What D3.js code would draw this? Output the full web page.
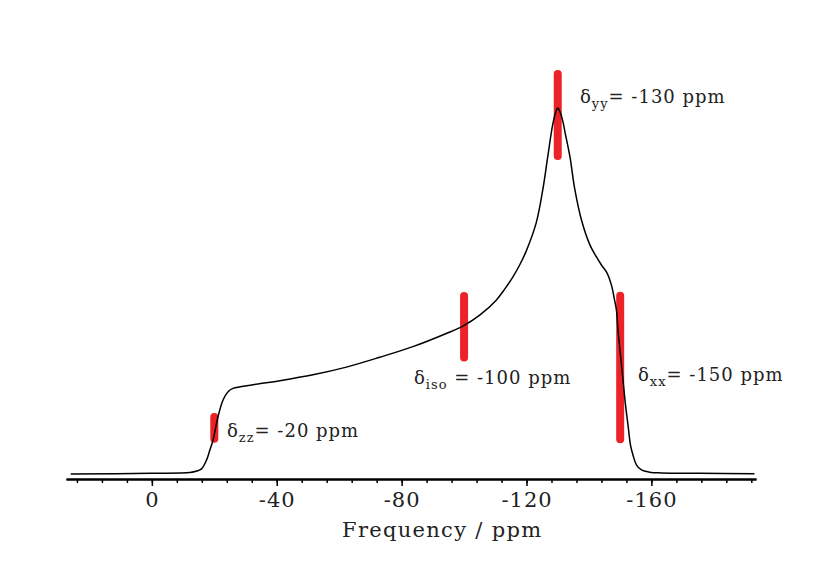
<!DOCTYPE html>
<html><head><meta charset="utf-8">
<script src="https://cdn.jsdelivr.net/npm/d3@7/dist/d3.min.js"></script>
<style>body{margin:0;background:#fff}svg{display:block}</style>
</head><body><svg id="c" width="829" height="585"></svg>
<script>
// spectrum, chemical shift (ppm) and normalized intensity
const shift = [26, 0, -12.2, -14.4, -15.9, -17.5, -18.6, -19.6, -21.2, -22.8, -24.4, -26.0, -32.4, -41.0, -51.6, -62.3, -73.0, -83.6, -94.3, -99.6, -105.0, -110.3, -113.0, -115.6, -117.8, -119.9, -123.1, -125.2, -126.8, -128.4, -129.4, -130.0, -130.7, -131.6, -132.3, -133.9, -135.5, -137.6, -140.3, -142.4, -144.0, -145.6, -147.2, -148.2, -148.8, -149.3, -150.1, -150.9, -151.7, -152.5, -153.3, -154.1, -155.2, -156.8, -159.4, -163.2, -175.4, -193];
const intensity = [0.0, 0.002, 0.004, 0.008, 0.014, 0.038, 0.066, 0.093, 0.157, 0.202, 0.225, 0.234, 0.244, 0.255, 0.271, 0.292, 0.319, 0.348, 0.384, 0.404, 0.434, 0.475, 0.505, 0.538, 0.571, 0.609, 0.686, 0.776, 0.867, 0.955, 0.99, 1.0, 0.99, 0.965, 0.935, 0.867, 0.776, 0.694, 0.626, 0.593, 0.571, 0.552, 0.516, 0.475, 0.448, 0.393, 0.325, 0.257, 0.189, 0.134, 0.079, 0.052, 0.025, 0.011, 0.005, 0.003, 0.002, 0.001];

// principal tensor components
const markerNames = ["zz", "iso", "yy", "xx"];
const markerShift = [-20, -100, -130, -150];
const markerLabel = ["= -20 ppm", " = -100 ppm", "= -130 ppm", "= -150 ppm"];
const markerTop = [0.156, 0.486, 1.093, 0.487];
const markerBottom = [0.096, 0.318, 0.869, 0.095];

const majorTicks = [0, -40, -80, -120, -160];
const minorTicks = d3.range(24, -193, -8);
const xTitle = "Frequency / ppm";

const svg = d3.select("#c");
const x = d3.scaleLinear().domain([27.5, -193.5]).range([66, 756]);
const y = d3.scaleLinear().domain([0, 1]).range([474, 108]);
const serif = "'DejaVu Serif', 'Liberation Serif', serif";

// markers
svg.append("g").selectAll("line").data(markerShift).join("line")
  .attr("x1", d => x(d)).attr("x2", d => x(d))
  .attr("y1", (d, i) => y(markerTop[i])).attr("y2", (d, i) => y(markerBottom[i]))
  .attr("stroke", "#ec2227").attr("stroke-width", 8).attr("stroke-linecap", "round");

// spectrum
const pts = shift.map((s, i) => [s, intensity[i]]);
svg.append("path").datum(pts)
  .attr("d", d3.line().x(d => x(d[0])).y(d => y(d[1])).curve(d3.curveCatmullRom.alpha(0.5)))
  .attr("fill", "none").attr("stroke", "#000").attr("stroke-width", 1.5);

// axes
const gMinor = svg.append("g").attr("transform", "translate(0,479)")
  .call(d3.axisBottom(x).tickValues(minorTicks).tickSize(4).tickSizeOuter(0).tickFormat(""));
const gMajor = svg.append("g").attr("transform", "translate(0,479)")
  .call(d3.axisBottom(x).tickValues(majorTicks).tickSize(7).tickSizeOuter(0).tickPadding(6).tickFormat(d => d === 0 ? "0" : String(d)));
[gMinor, gMajor].forEach(g => {
  g.select(".domain").attr("stroke", "#000").attr("stroke-width", 2);
  g.selectAll(".tick line").attr("stroke", "#000").attr("stroke-width", 1.5);
});
gMajor.selectAll(".tick text").attr("font-family", serif).attr("font-size", 21)
  .attr("letter-spacing", 1).attr("fill", "#222");

svg.append("text").attr("x", x(-93)).attr("y", 537).attr("text-anchor", "middle")
  .attr("font-family", serif).attr("font-size", 21).attr("letter-spacing", 1.3)
  .attr("fill", "#222").text(xTitle);

// labels
const labelPos = [[227, 437], [414, 384], [580, 103], [638, 381]];
markerNames.forEach((n, i) => {
  const t = svg.append("text").attr("x", labelPos[i][0]).attr("y", labelPos[i][1])
    .attr("font-family", serif).attr("font-size", 18).attr("letter-spacing", 1).attr("fill", "#222");
  t.append("tspan").text("δ");
  t.append("tspan").attr("dy", 5).attr("font-size", 13).text(n);
  t.append("tspan").attr("dy", -5).text(markerLabel[i]);
});
</script></body></html>
